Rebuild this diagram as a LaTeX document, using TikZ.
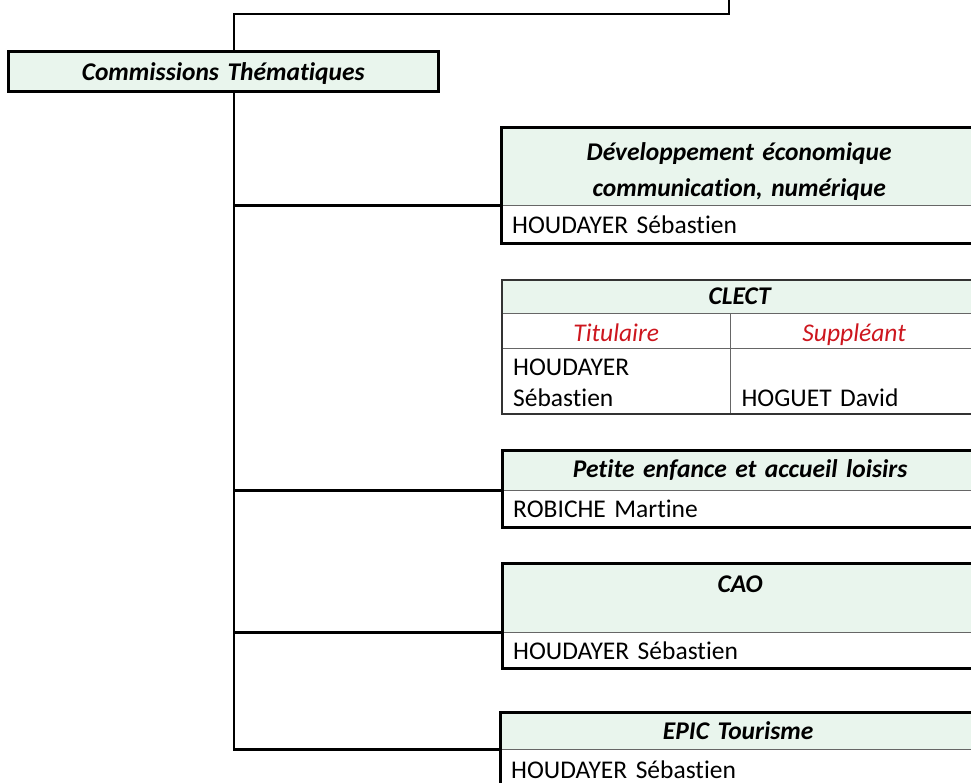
\documentclass[tikz,border=0pt]{standalone}
\usepackage{fontspec}
\setmainfont{Carlito}[Ligatures=NoCommon]
\usetikzlibrary{positioning,calc}
\usepackage{xcolor}
\definecolor{headgreen}{RGB}{233,245,237}
\definecolor{labelred}{RGB}{205,22,30}

\begin{document}
\begin{tikzpicture}[x=1pt,y=-1pt,
    link/.style={line width=2.9pt},
    frame/.style={line width=3pt},
    thinframe/.style={line width=1.8pt, black!80},
    sepline/.style={line width=1.2pt, black!60},
    cardhead/.style={fill=headgreen, anchor=north west, inner sep=0pt, minimum width=476pt,
        text width=454pt, align=center, font=\fontsize{25.5}{36}\selectfont\bfseries\itshape},
    member/.style={anchor=north west, inner xsep=11pt, inner ysep=0pt, minimum width=476pt,
        text width=454pt, align=left, font=\fontsize{25.5}{31}\selectfont},
    rolecell/.style={anchor=north west, inner sep=0pt, align=center, text height=28pt, text depth=7pt,
        font=\fontsize{25.5}{31}\selectfont\itshape, text=labelred}]
    \useasboundingbox (0,0) rectangle (971,783);
    \clip (0,0) rectangle (971,783);
    % Title box
    \node[cardhead, minimum width=430pt, text width=420pt, text height=28pt, text depth=11pt] (ct) at (8,52) {Commissions Thématiques};
    \draw[frame] (ct.north west) rectangle (ct.south east);
    % Spine
    \coordinate (spine) at (234,0);
    \coordinate (up) at (729,-3);
    \draw[link] (spine |- ct.north) -- ++(0,-38) -| (up);
    % Développement économique
    \node[cardhead, minimum height=77pt, text height=32pt, text depth=45pt] (devhead) at (501,128)
        {Développement économique\\communication, numérique};
    \node[member, minimum height=38pt] (devname) at (devhead.south west) {HOUDAYER Sébastien};
    \draw[sepline] (devhead.south west) -- (devhead.south east);
    \draw[frame] (devhead.north west) rectangle (devname.south east);
    % CLECT
    \node[cardhead, minimum width=475pt, minimum height=33pt] (clecthead) at (502,280) {CLECT};
    \node[rolecell, minimum width=228pt] (tit) at (clecthead.south west) {Titulaire};
    \node[rolecell, minimum width=247pt] (sup) at (tit.north east) {Suppléant};
    \node[member, minimum width=228pt, text width=206pt, text height=26pt, text depth=39pt] (titname)
        at (tit.south west) {HOUDAYER\\Sébastien};
    \node[member, minimum width=247pt, text width=225pt, text height=57pt, text depth=8pt] (supname)
        at (sup.south west) {HOGUET David};
    \draw[sepline] (clecthead.south west) -- (clecthead.south east);
    \draw[sepline] (tit.south west) -- (sup.south east);
    \draw[sepline] (tit.north east) -- (titname.south east);
    \draw[thinframe] (clecthead.north west) rectangle (supname.south east);
    % Petite enfance
    \node[cardhead, minimum height=40pt] (pehead) at (502,450) {Petite enfance et accueil loisirs};
    \node[member, minimum height=37pt] (pename) at (pehead.south west) {ROBICHE Martine};
    \draw[sepline] (pehead.south west) -- (pehead.south east);
    \draw[frame] (pehead.north west) rectangle (pename.south east);
    % CAO
    \node[cardhead, minimum height=69pt, text height=29pt, text depth=40pt] (caohead) at (502,563) {CAO};
    \node[member, minimum height=36pt] (caoname) at (caohead.south west) {HOUDAYER Sébastien};
    \draw[sepline] (caohead.south west) -- (caohead.south east);
    \draw[frame] (caohead.north west) rectangle (caoname.south east);
    % EPIC Tourisme
    \node[cardhead, minimum height=37pt] (epichead) at (500,712) {EPIC Tourisme};
    \node[member, minimum height=40pt] (epicname) at (epichead.south west) {HOUDAYER Sébastien};
    \draw[sepline] (epichead.south west) -- (epichead.south east);
    \draw[frame] (epichead.north west) rectangle (epicname.south east);
    % Branches
    \draw[link] (spine |- ct.south) |- (epichead.south west);
    \draw[link] (spine |- devhead.south west) -- (devhead.south west);
    \draw[link] (spine |- pehead.south west) -- (pehead.south west);
    \draw[link] (spine |- caohead.south west) -- (caohead.south west);
\end{tikzpicture}
\end{document}
